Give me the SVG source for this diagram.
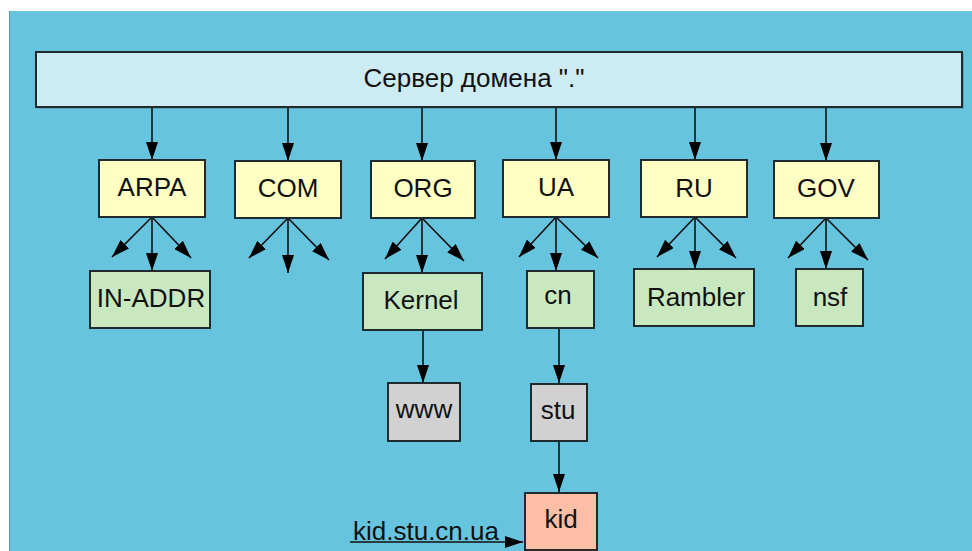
<svg xmlns="http://www.w3.org/2000/svg" width="972" height="551" viewBox="0 0 972 551">
<style>
.box{stroke:#1e2a2e;stroke-width:2}
.root{fill:#cdebf3}
.tld{fill:#ffffc3}
.sub{fill:#c9e8bf}
.host{fill:#d1d1d1}
.leaf{fill:#fcbfa5}
text{font-family:"Liberation Sans",Arial,sans-serif;font-size:26px;fill:#111;text-anchor:middle}
.c{stroke:#111;stroke-width:1.6;fill:none;marker-end:url(#ah)}
</style>
<defs>
<marker id="ah" markerUnits="userSpaceOnUse" markerWidth="18" markerHeight="12" viewBox="0 0 18 12" refX="18" refY="6" orient="auto">
<path d="M0,0 L18,6 L0,12 z" fill="#000"/>
</marker>
</defs>
<rect x="0" y="0" width="972" height="551" fill="#ffffff"/>
<rect x="9" y="11" width="963" height="540" fill="#67c4de"/>
<line x1="9.5" y1="11" x2="9.5" y2="551" stroke="#4a9cb4" stroke-width="1"/>

<g id="connectors">
<line class="c" x1="152" y1="107" x2="152" y2="160"/>
<line class="c" x1="288" y1="107" x2="288" y2="161"/>
<line class="c" x1="422" y1="107" x2="422" y2="161"/>
<line class="c" x1="556" y1="107" x2="556" y2="160"/>
<line class="c" x1="695" y1="107" x2="695" y2="160"/>
<line class="c" x1="826" y1="107" x2="826" y2="161"/>

<line class="c" x1="152" y1="217" x2="112" y2="257"/>
<line class="c" x1="152" y1="217" x2="152" y2="271"/>
<line class="c" x1="152" y1="217" x2="191" y2="258"/>

<line class="c" x1="288" y1="218" x2="249" y2="258"/>
<line class="c" x1="288" y1="218" x2="288" y2="273"/>
<line class="c" x1="288" y1="218" x2="329" y2="260"/>

<line class="c" x1="422" y1="218" x2="385" y2="259"/>
<line class="c" x1="422" y1="218" x2="422" y2="273"/>
<line class="c" x1="422" y1="218" x2="464" y2="261"/>

<line class="c" x1="556" y1="217" x2="519" y2="257"/>
<line class="c" x1="556" y1="217" x2="556" y2="271"/>
<line class="c" x1="556" y1="217" x2="598" y2="258"/>

<line class="c" x1="695" y1="217" x2="657" y2="257"/>
<line class="c" x1="695" y1="217" x2="695" y2="269"/>
<line class="c" x1="695" y1="217" x2="736" y2="258"/>

<line class="c" x1="826" y1="218" x2="788" y2="258"/>
<line class="c" x1="826" y1="218" x2="826" y2="269"/>
<line class="c" x1="826" y1="218" x2="868" y2="260"/>

<line class="c" x1="423" y1="330" x2="423" y2="383"/>
<line class="c" x1="559" y1="328" x2="559" y2="383"/>
<line class="c" x1="559" y1="441" x2="559" y2="492"/>
<line class="c" x1="350" y1="542" x2="523" y2="542"/>
</g>

<g id="root">
<rect x="37.5" y="53.5" width="926" height="55" fill="#3a4a50" opacity="0.5"/>
<rect class="box root" x="36" y="52" width="926" height="55"/>
<text x="474" y="87">Сервер домена "."</text>
</g>
<g id="arpa"><rect class="box tld" x="99" y="160" width="106" height="57"/><text x="152" y="196">ARPA</text></g>
<g id="com"><rect class="box tld" x="235" y="161" width="106" height="57"/><text x="288" y="197">COM</text></g>
<g id="org"><rect class="box tld" x="371" y="161" width="104" height="57"/><text x="423" y="197">ORG</text></g>
<g id="ua"><rect class="box tld" x="503" y="160" width="106" height="57"/><text x="556" y="196">UA</text></g>
<g id="ru"><rect class="box tld" x="641" y="160" width="106" height="57"/><text x="694" y="197">RU</text></g>
<g id="gov"><rect class="box tld" x="774" y="161" width="105" height="57"/><text x="826" y="197">GOV</text></g>
<g id="in-addr"><rect class="box sub" x="90" y="271" width="120" height="57"/><text x="151" y="307">IN-ADDR</text></g>
<g id="kernel"><rect class="box sub" x="363" y="273" width="119" height="57"/><text x="421" y="309">Kernel</text></g>
<g id="cn"><rect class="box sub" x="527" y="271" width="67" height="57"/><text x="558" y="304">cn</text></g>
<g id="rambler"><rect class="box sub" x="634" y="269" width="120" height="57"/><text x="696" y="306">Rambler</text></g>
<g id="nsf"><rect class="box sub" x="796" y="269" width="67" height="57"/><text x="830" y="306">nsf</text></g>
<g id="www"><rect class="box host" x="388" y="383" width="72" height="58"/><text x="424" y="418">www</text></g>
<g id="stu"><rect class="box host" x="531" y="384" width="56" height="57"/><text x="558" y="419">stu</text></g>
<g id="kid"><rect class="box leaf" x="525" y="493" width="72" height="57"/><text x="561" y="528">kid</text></g>
<g id="label"><text x="426" y="540">kid.stu.cn.ua</text></g>
</svg>
